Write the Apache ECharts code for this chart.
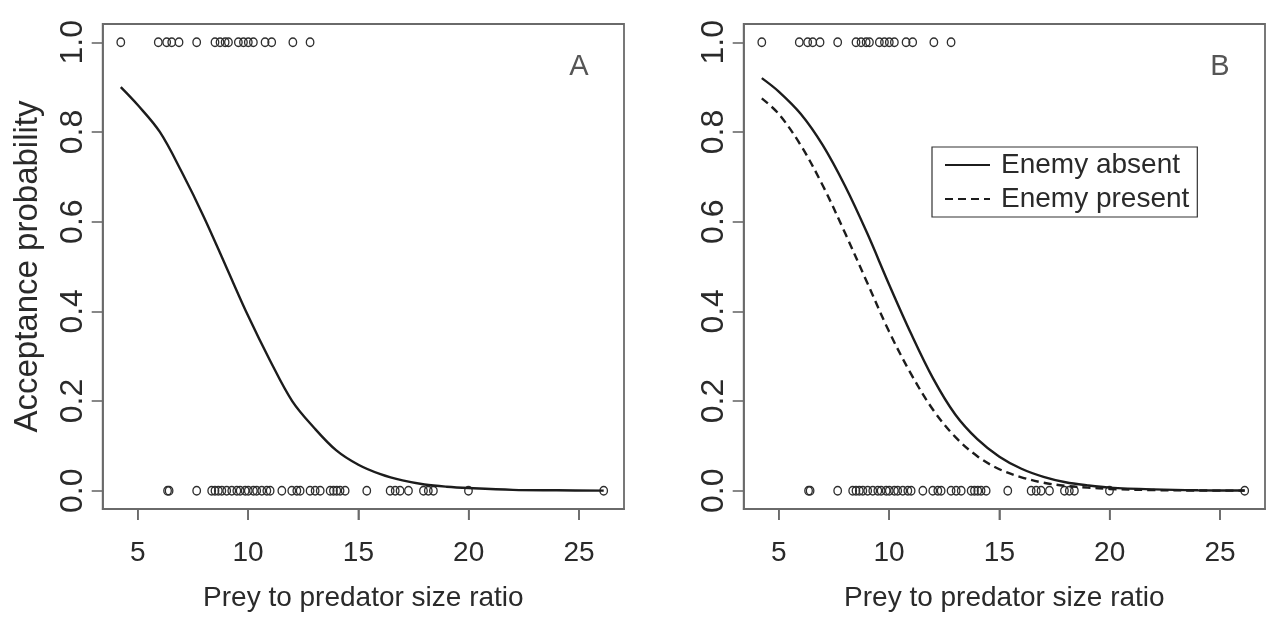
<!DOCTYPE html>
<html>
<head>
<meta charset="utf-8">
<script src="https://cdn.jsdelivr.net/npm/echarts@6/dist/echarts.min.js"></script>
<style>
html,body{margin:0;padding:0;background:#fff;}
#chart{width:1275px;height:617px;}
</style>
</head>
<body>
<div id="chart"></div>
<script>
// ---- data ----
const xTicks = [5, 10, 15, 20, 25];
const yTicks = [0, 0.2, 0.4, 0.6, 0.8, 1.0];
const panelLabels = ['A', 'B'];
const seriesNames = ['Enemy absent', 'Enemy present'];

// prey that were accepted (y = 1)
const acceptedX = [4.23, 5.93, 6.31, 6.54, 6.87, 7.67, 8.50, 8.73, 8.96, 9.11, 9.56, 9.79, 10.01, 10.24, 10.77, 11.07, 12.03, 12.81];
// prey that were rejected (y = 0)
const rejectedX = [6.35, 6.42, 7.67, 8.35, 8.50, 8.65, 8.81, 9.03, 9.26, 9.49, 9.64, 9.87, 10.01, 10.24, 10.39, 10.62, 10.85, 11.00, 11.53, 11.98, 12.21, 12.36, 12.81, 13.04, 13.27, 13.72, 13.87, 14.02, 14.17, 14.40, 15.38, 16.44, 16.67, 16.89, 17.27, 17.95, 18.17, 18.40, 19.99, 26.12];

// fitted curves
const curveX       = [4.23, 5, 6, 7, 8, 9, 10, 11, 12, 13, 14, 15, 16, 17, 18, 19, 20, 22, 24, 26.12];
const probA        = [0.90, 0.86, 0.80, 0.71, 0.61, 0.50, 0.39, 0.29, 0.20, 0.14, 0.09, 0.058, 0.037, 0.023, 0.014, 0.009, 0.006, 0.002, 0.001, 0.0003];
const probAbsent   = [0.92, 0.89, 0.84, 0.77, 0.68, 0.575, 0.46, 0.35, 0.25, 0.17, 0.115, 0.076, 0.049, 0.031, 0.019, 0.012, 0.007, 0.003, 0.001, 0.0004];
const probPresent  = [0.875, 0.84, 0.77, 0.68, 0.575, 0.465, 0.355, 0.26, 0.18, 0.12, 0.077, 0.048, 0.03, 0.018, 0.011, 0.007, 0.004, 0.0015, 0.0005, 0.0002];

// ---- styling ----
const FONT = '"Liberation Sans", Arial, Helvetica, sans-serif';
const TXT = '#2a2a2a';
const BOX = '#6a6a6a';
const X_MIN = 3.41, X_MAX = 27.04, Y_MIN = -0.0407, Y_MAX = 1.0407;

const pairs = (xs, ys) => xs.map((x, i) => [x, ys[i]]);
const constY = (xs, y) => xs.map(x => [x, y]);

function xAxisFor(idx) {
  return {
    type: 'value', gridIndex: idx, min: X_MIN, max: X_MAX,
    axisLine: { show: true, onZero: false, lineStyle: { color: BOX, width: 1.8 } },
    splitLine: { show: false },
    axisTick: { show: true, customValues: xTicks, length: 11, inside: false, lineStyle: { color: BOX, width: 1.6 } },
    axisLabel: { show: true, customValues: xTicks, margin: 30, fontSize: 28, color: TXT, fontFamily: FONT },
    name: 'Prey to predator size ratio', nameLocation: 'middle', nameGap: 75,
    nameTextStyle: { fontSize: 28, color: TXT, fontFamily: FONT }
  };
}
function yAxisFor(idx, withName) {
  const ax = {
    type: 'value', gridIndex: idx, min: Y_MIN, max: Y_MAX,
    axisLine: { show: true, onZero: false, lineStyle: { color: BOX, width: 1.8 } },
    splitLine: { show: false },
    axisTick: { show: true, customValues: yTicks, length: 11, lineStyle: { color: BOX, width: 1.6 } },
    axisLabel: { show: true, customValues: yTicks, rotate: 90, margin: 14, fontSize: 32, color: TXT, fontFamily: FONT,
      formatter: v => v.toFixed(1) }
  };
  if (withName) {
    ax.name = 'Acceptance probability';
    ax.nameLocation = 'middle';
    ax.nameGap = 58;
    ax.nameTextStyle = { fontSize: 33, color: TXT, fontFamily: FONT };
  }
  return ax;
}

const pointStyle = {
  type: 'scatter', symbol: 'circle', symbolSize: [7.5, 8.5],
  itemStyle: { color: 'rgba(0,0,0,0)', borderColor: '#2e2e2e', borderWidth: 1.4, opacity: 1 },
  emphasis: { disabled: true }, silent: true, z: 3
};
function pointsFor(idx) {
  return [
    Object.assign({}, pointStyle, { xAxisIndex: idx, yAxisIndex: idx, data: constY(acceptedX, 1) }),
    Object.assign({}, pointStyle, { xAxisIndex: idx, yAxisIndex: idx, data: constY(rejectedX, 0) })
  ];
}
function curve(idx, name, ys, dashed) {
  return {
    type: 'line', name: name, xAxisIndex: idx, yAxisIndex: idx,
    data: pairs(curveX, ys), smooth: 0.35,
    symbol: 'none', showSymbol: false, silent: true, z: 4,
    lineStyle: { color: '#1c1c1c', width: 2.4, type: dashed ? [8, 5] : 'solid' },
    itemStyle: { color: '#1c1c1c' }
  };
}
function panelLabel(idx) {
  return {
    type: 'scatter', xAxisIndex: idx, yAxisIndex: idx, symbolSize: 1, silent: true,
    itemStyle: { color: 'rgba(0,0,0,0)' },
    data: [[25, 0.945]],
    label: { show: true, position: 'inside', formatter: panelLabels[idx], fontSize: 29, color: TXT, fontFamily: FONT }
  };
}

const chart = echarts.init(document.getElementById('chart'), null, { renderer: 'canvas' });
chart.setOption({
  animation: false,
  backgroundColor: '#ffffff',
  grid: [
    { left: 102.7, top: 24, width: 521.3, height: 486, show: true, borderColor: BOX, borderWidth: 1.8, backgroundColor: 'transparent' },
    { left: 743.7, top: 24, width: 521.3, height: 486, show: true, borderColor: BOX, borderWidth: 1.8, backgroundColor: 'transparent' }
  ],
  xAxis: [xAxisFor(0), xAxisFor(1)],
  yAxis: [yAxisFor(0, true), yAxisFor(1, false)],
  legend: {
    data: seriesNames, orient: 'vertical', left: 932, top: 147,
    itemWidth: 45, itemHeight: 14, itemGap: 6,
    padding: [4, 8, 4, 12],
    borderColor: '#333', borderWidth: 1.2, backgroundColor: '#fff',
    itemStyle: { opacity: 0 },
    textStyle: { fontSize: 28, color: TXT, fontFamily: FONT, padding: [0, 0, 0, 6] },
    selectedMode: false
  },
  series: [
    ...pointsFor(0),
    curve(0, 'A', probA, false),
    panelLabel(0),
    ...pointsFor(1),
    curve(1, seriesNames[0], probAbsent, false),
    curve(1, seriesNames[1], probPresent, true),
    panelLabel(1)
  ]
});

// x-axis tick marks, positioned through the axis scale (drawn on top)
const tickEls = [];
[0, 1].forEach(idx => {
  xTicks.forEach(v => {
    const p = chart.convertToPixel({ xAxisIndex: idx, yAxisIndex: idx }, [v, Y_MIN]);
    tickEls.push({
      type: 'line', z: 1000, zlevel: 3, silent: true,
      shape: { x1: p[0], y1: p[1], x2: p[0], y2: p[1] + 11 },
      style: { stroke: BOX, lineWidth: 1.6 }
    });
  });
});
chart.setOption({ graphic: { elements: tickEls } });
</script>
</body>
</html>
